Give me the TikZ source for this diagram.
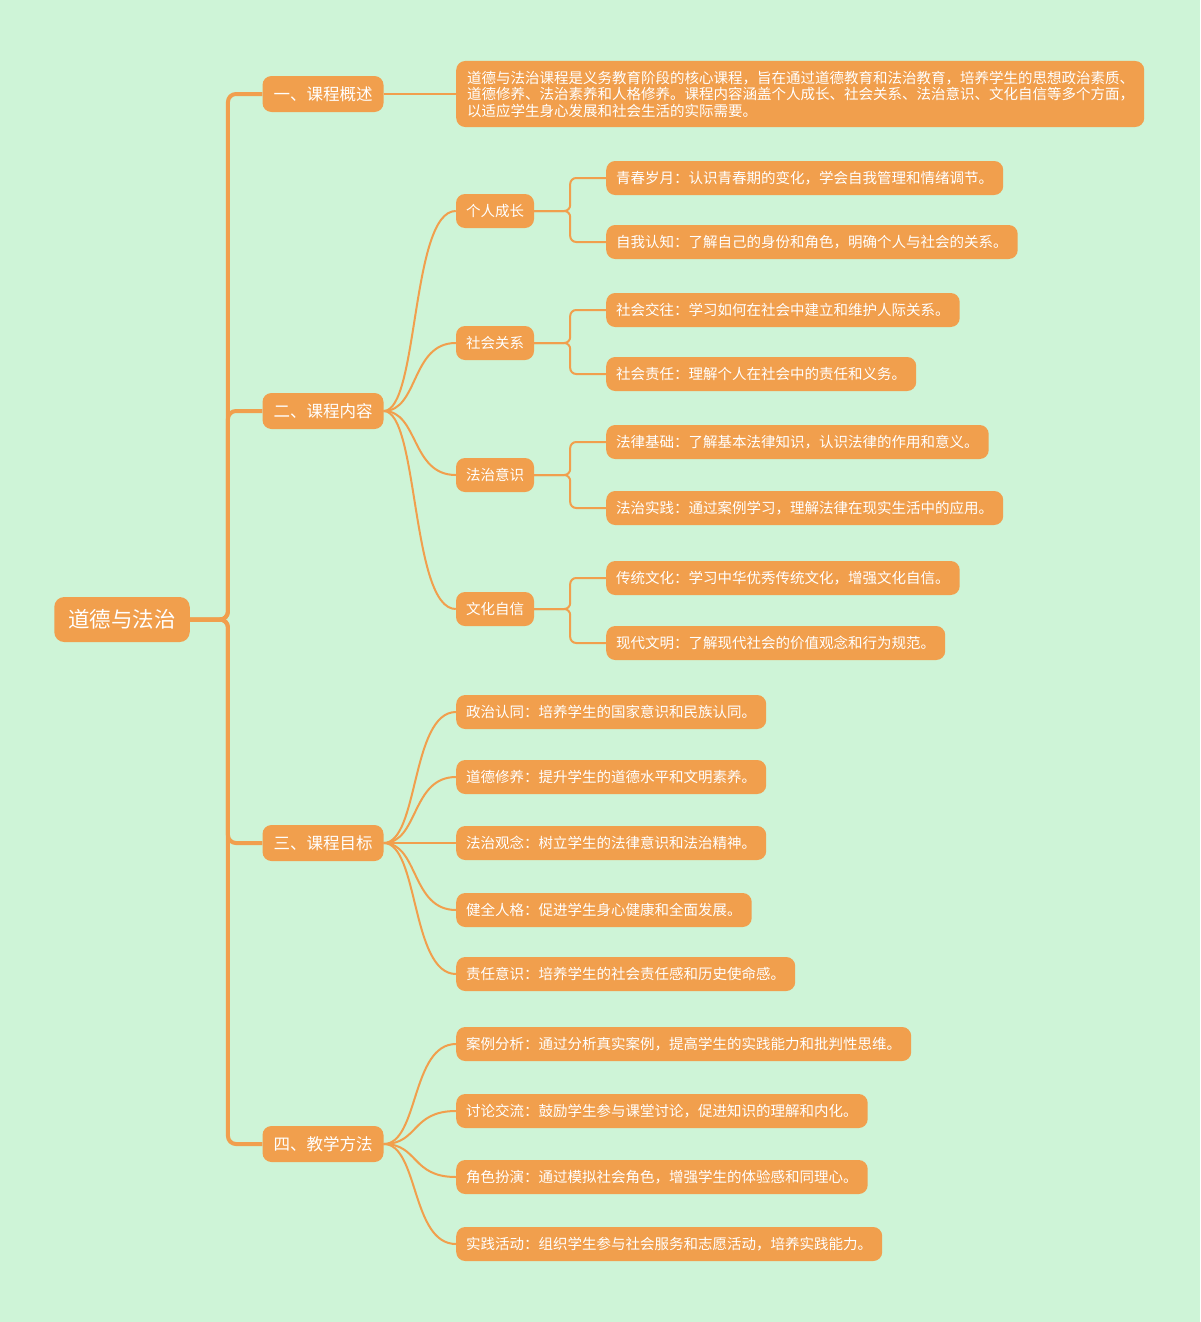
\documentclass[tikz,border=0pt]{standalone}
\usepackage{fontspec}
\newfontfamily\cjk{Noto Sans CJK SC}
\definecolor{mintbg}{HTML}{CEF4D7}
\definecolor{mapor}{HTML}{F19F4D}
\tikzset{
  rootbox/.style={fill=mapor, text=white, rounded corners=10pt, inner xsep=14pt, inner ysep=0pt, minimum height=45pt, font=\cjk\fontsize{21.5}{24}\selectfont},
  topic/.style={fill=mapor, text=white, rounded corners=9pt, inner xsep=11pt, inner ysep=0pt, minimum height=36pt, font=\cjk\fontsize{16.5}{18}\selectfont},
  subtopic/.style={fill=mapor, text=white, rounded corners=9pt, inner xsep=10pt, inner ysep=0pt, minimum height=34pt, font=\cjk\fontsize{14.5}{16}\selectfont},
  leaf/.style={subtopic, anchor=west},
  trunk/.style={draw=mapor, line width=4pt, rounded corners=8pt},
  link/.style={draw=mapor, line width=2pt},
  bracket/.style={draw=mapor, line width=2pt, rounded corners=6pt}
}
\begin{document}
\begin{tikzpicture}[x=1pt, y=-1pt]
\fill[mintbg] (0,0) rectangle (1200,1322);
\useasboundingbox (0,0) rectangle (1200,1322);

% root and main topics
\node[rootbox] (root) at (122,619.5) {道德与法治};
\node[topic] (gs) at (323,94) {一、课程概述};
\node[topic] (nr) at (323,411) {二、课程内容};
\node[topic] (mb) at (323,843) {三、课程目标};
\node[topic] (ff) at (323,1144) {四、教学方法};

\draw[trunk] (root.east) -- ++(38,0) |- (gs.west);
\draw[trunk] (root.east) -- ++(38,0) |- (nr.west);
\draw[trunk] (root.east) -- ++(38,0) |- (mb.west);
\draw[trunk] (root.east) -- ++(38,0) |- (ff.west);

% overview
\node[subtopic, anchor=west, text width=666pt, inner xsep=11pt, align=left, minimum height=66pt, font=\cjk\fontsize{14.5}{16.5}\selectfont] (gsText) at (456,94) {道德与法治课程是义务教育阶段的核心课程，旨在通过道德教育和法治教育，培养学生的思想政治素质、\\道德修养、法治素养和人格修养。课程内容涵盖个人成长、社会关系、法治意识、文化自信等多个方面，\\以适应学生身心发展和社会生活的实际需要。};
\draw[link] (gs.east) -- (gsText.west);

% course content
\node[subtopic] (grcz) at (495,211) {个人成长};
\node[subtopic] (shgx) at (495,343) {社会关系};
\node[subtopic] (fzys) at (495,475) {法治意识};
\node[subtopic] (whzx) at (495,609) {文化自信};
\foreach \s in {grcz,shgx,fzys,whzx}
  \draw[link] (nr.east) .. controls +(35,0) and +(-45,0) .. (\s.west);

\node[leaf] (qcsy) at (606,178) {青春岁月：认识青春期的变化，学会自我管理和情绪调节。};
\node[leaf] (zwrz) at (606,242) {自我认知：了解自己的身份和角色，明确个人与社会的关系。};
\node[leaf] (shjw) at (606,310) {社会交往：学习如何在社会中建立和维护人际关系。};
\node[leaf] (shzr) at (606,374) {社会责任：理解个人在社会中的责任和义务。};
\node[leaf] (fljc) at (606,442) {法律基础：了解基本法律知识，认识法律的作用和意义。};
\node[leaf] (fzsj) at (606,508) {法治实践：通过案例学习，理解法律在现实生活中的应用。};
\node[leaf] (ctwh) at (606,578) {传统文化：学习中华优秀传统文化，增强文化自信。};
\node[leaf] (xdwm) at (606,643) {现代文明：了解现代社会的价值观念和行为规范。};

\draw[bracket] (grcz.east) -- ++(36,0) |- (qcsy.west);
\draw[bracket] (grcz.east) -- ++(36,0) |- (zwrz.west);
\draw[bracket] (shgx.east) -- ++(36,0) |- (shjw.west);
\draw[bracket] (shgx.east) -- ++(36,0) |- (shzr.west);
\draw[bracket] (fzys.east) -- ++(36,0) |- (fljc.west);
\draw[bracket] (fzys.east) -- ++(36,0) |- (fzsj.west);
\draw[bracket] (whzx.east) -- ++(36,0) |- (ctwh.west);
\draw[bracket] (whzx.east) -- ++(36,0) |- (xdwm.west);

% course goals
\node[leaf] (zzrt) at (456,712) {政治认同：培养学生的国家意识和民族认同。};
\node[leaf] (ddxy) at (456,777) {道德修养：提升学生的道德水平和文明素养。};
\node[leaf] (fzgn) at (456,843) {法治观念：树立学生的法律意识和法治精神。};
\node[leaf] (jqrg) at (456,910) {健全人格：促进学生身心健康和全面发展。};
\node[leaf] (zrys) at (456,974) {责任意识：培养学生的社会责任感和历史使命感。};
\foreach \s in {zzrt,ddxy,fzgn,jqrg,zrys}
  \draw[link] (mb.east) .. controls +(35,0) and +(-45,0) .. (\s.west);

% teaching methods
\node[leaf] (alfx) at (456,1044) {案例分析：通过分析真实案例，提高学生的实践能力和批判性思维。};
\node[leaf] (tljl) at (456,1111) {讨论交流：鼓励学生参与课堂讨论，促进知识的理解和内化。};
\node[leaf] (jsby) at (456,1177) {角色扮演：通过模拟社会角色，增强学生的体验感和同理心。};
\node[leaf] (sjhd) at (456,1244) {实践活动：组织学生参与社会服务和志愿活动，培养实践能力。};
\foreach \s in {alfx,tljl,jsby,sjhd}
  \draw[link] (ff.east) .. controls +(35,0) and +(-45,0) .. (\s.west);
\end{tikzpicture}
\end{document}
